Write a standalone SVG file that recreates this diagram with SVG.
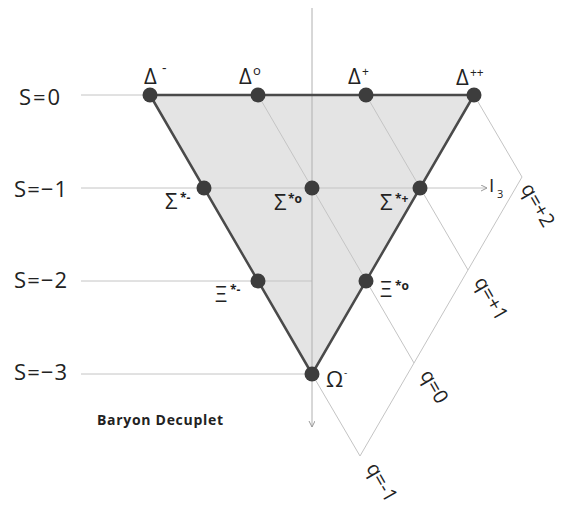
<svg xmlns="http://www.w3.org/2000/svg" width="561" height="508" viewBox="0 0 561 508">
<style>
text{font-family:"Open Sans","Noto Sans","DejaVu Sans",sans-serif;fill:#222}
.thin{stroke:#c4c4c4;stroke-width:1;fill:none}
.axis{stroke:#b0b0b0;stroke-width:1;fill:none}
.node{fill:#3d3d3d}
.big{font-size:22px}
.sup{font-size:12px}
.s{font-size:22px}
.q{font-size:20px}
</style>
<defs>
<marker id="arr" markerWidth="8" markerHeight="8" refX="6" refY="3" orient="auto" markerUnits="userSpaceOnUse">
<path d="M0,0 L6,3 L0,6" fill="none" stroke="#999" stroke-width="1"/>
</marker>
</defs>
<g id="connectors">
<polygon points="150,95 474,95 312,374" fill="#e4e4e4" stroke="none"/>
<line class="thin" x1="81" y1="95" x2="150" y2="95"/>
<line class="thin" x1="81" y1="188" x2="487" y2="188" marker-end="url(#arr)"/>
<line class="thin" x1="81" y1="281" x2="312" y2="281"/>
<line class="thin" x1="81" y1="374" x2="312" y2="374"/>
<line class="axis" x1="312" y1="8" x2="312" y2="427" marker-end="url(#arr)"/>
<line class="thin" x1="258" y1="95" x2="414" y2="363"/>
<line class="thin" x1="366" y1="95" x2="468" y2="270"/>
<line class="thin" x1="474" y1="95" x2="522" y2="177"/>
<line class="thin" x1="312" y1="374" x2="360" y2="456"/>
<line class="thin" x1="522" y1="177" x2="360" y2="456"/>
<polygon points="150,95 474,95 312,374" fill="none" stroke="#4a4a4a" stroke-width="2.5" stroke-linejoin="round"/>
</g>
<g id="strangeness-labels">
<text class="s" x="19" y="105" textLength="41">S=0</text>
<text class="s" x="14" y="197" textLength="53">S=−1</text>
<text class="s" x="14" y="288" textLength="53">S=−2</text>
<text class="s" x="14" y="380" textLength="53">S=−3</text>
</g>
<g id="charge-labels">
<text class="q" transform="translate(522,177) rotate(60)" x="9" y="7" font-size="18">q=+2</text>
<text class="q" transform="translate(468,270) rotate(60)" x="13" y="1">q=+1</text>
<text class="q" transform="translate(414,363) rotate(60)" x="13" y="1">q=0</text>
<text class="q" transform="translate(360,456) rotate(60)" x="13" y="1">q=-1</text>
</g>
<g id="I3-label">
<text x="489" y="192" font-size="19">I</text>
<text x="497" y="198" font-size="11">3</text>
</g>
<g id="delta-minus"><circle class="node" cx="150" cy="95" r="7.5"/><text class="big" x="144" y="84">Δ</text><text font-size="14" x="162" y="73">-</text></g>
<g id="delta-zero"><circle class="node" cx="258" cy="95" r="7.5"/><text class="big" x="239" y="84">Δ</text><text font-size="13" x="253" y="75">o</text></g>
<g id="delta-plus"><circle class="node" cx="366" cy="95" r="7.5"/><text class="big" x="348" y="84">Δ</text><text class="sup" x="362" y="76">+</text></g>
<g id="delta-plusplus"><circle class="node" cx="474" cy="95" r="7.5"/><text class="big" x="456" y="85">Δ</text><text class="sup" x="470" y="77">++</text></g>
<g id="sigma-minus"><circle class="node" cx="204" cy="188" r="7.5"/><text class="big" x="165" y="209">Σ</text><text class="sup" x="180" y="202" font-weight="bold">*-</text></g>
<g id="sigma-zero"><circle class="node" cx="312" cy="188" r="7.5"/><text class="big" x="274" y="210">Σ</text><text class="sup" x="288" y="203" font-weight="bold">*o</text></g>
<g id="sigma-plus"><circle class="node" cx="420" cy="188" r="7.5"/><text class="big" x="380" y="210">Σ</text><text class="sup" x="395" y="203" font-weight="bold">*+</text></g>
<g id="xi-minus"><circle class="node" cx="258" cy="281" r="7.5"/><text class="big" x="215" y="302">Ξ</text><text class="sup" x="230" y="294" font-weight="bold">*-</text></g>
<g id="xi-zero"><circle class="node" cx="366" cy="281" r="7.5"/><text class="big" x="380" y="297">Ξ</text><text class="sup" x="395" y="290" font-weight="bold">*o</text></g>
<g id="omega-minus"><circle class="node" cx="312" cy="374" r="7.5"/><text class="big" x="326" y="387">Ω</text><text font-size="10" x="344" y="376">-</text></g>
<g id="title"><text x="97" y="425" font-size="14" font-weight="bold" textLength="126">Baryon Decuplet</text></g>
</svg>
